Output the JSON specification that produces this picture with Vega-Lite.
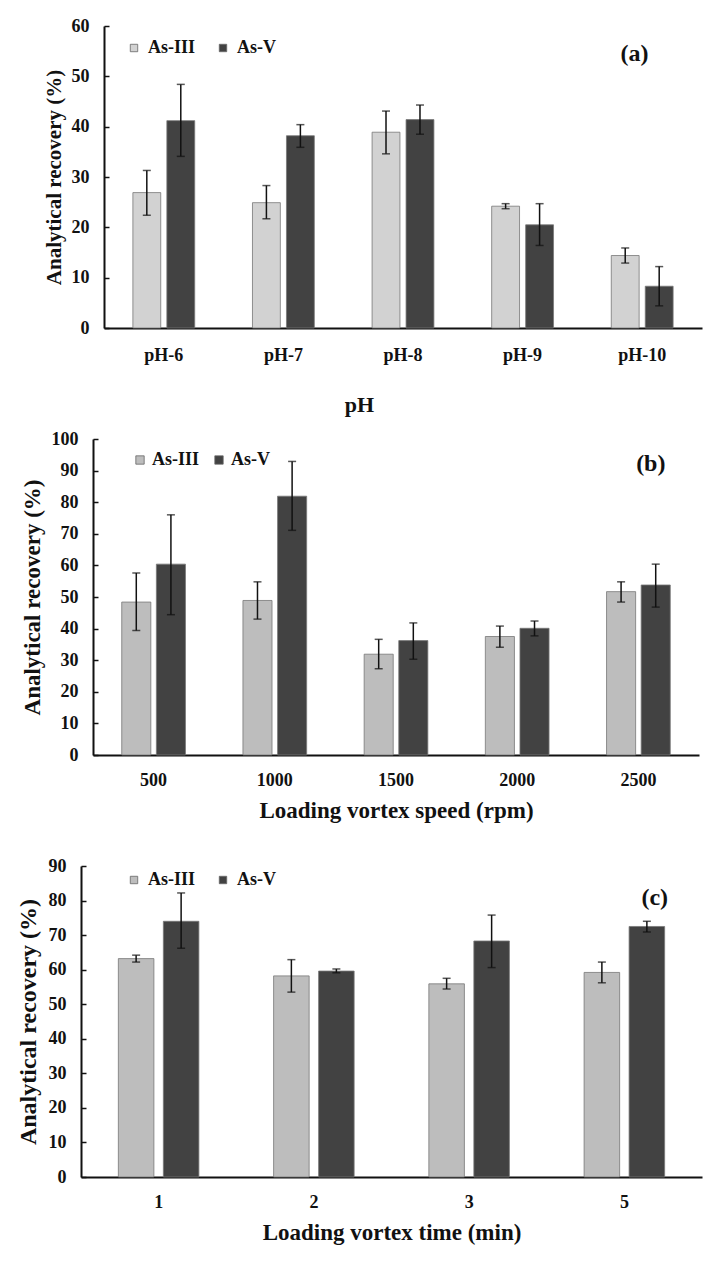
{
  "$schema": "https://vega.github.io/schema/vega-lite/v6.json",
  "background": "white",
  "padding": {"left": 16, "top": 17, "right": 5, "bottom": 5},
  "bounds": "flush",
  "spacing": 111,
  "config": {
    "font": "Liberation Serif",
    "view": {"stroke": null},
    "axis": {"labelFont": "Liberation Serif", "titleFont": "Liberation Serif", "labelFontWeight": "bold", "titleFontWeight": "bold", "labelColor": "#111", "titleColor": "#111", "domainColor": "#111", "domainWidth": 2, "tickColor": "#111", "tickWidth": 1.5, "grid": false, "labelFontSize": 18, "labelOverlap": false},
    "legend": {"labelFont": "Liberation Serif", "labelFontWeight": "bold", "labelFontSize": 18, "labelColor": "#111"}
  },
  "resolve": {"scale": {"x": "independent", "y": "independent", "color": "independent", "xOffset": "independent"}, "legend": {"color": "independent"}, "axis": {"x": "independent", "y": "independent"}},
  "datasets": {
    "a": [
      {"cat": "pH-6", "sp": "As-III", "v": 26.9, "lo": 22.4, "hi": 31.3},
      {"cat": "pH-6", "sp": "As-V", "v": 41.2, "lo": 34.1, "hi": 48.4},
      {"cat": "pH-7", "sp": "As-III", "v": 24.9, "lo": 21.7, "hi": 28.3},
      {"cat": "pH-7", "sp": "As-V", "v": 38.2, "lo": 35.9, "hi": 40.4},
      {"cat": "pH-8", "sp": "As-III", "v": 38.9, "lo": 34.6, "hi": 43.1},
      {"cat": "pH-8", "sp": "As-V", "v": 41.4, "lo": 38.5, "hi": 44.3},
      {"cat": "pH-9", "sp": "As-III", "v": 24.2, "lo": 23.7, "hi": 24.7},
      {"cat": "pH-9", "sp": "As-V", "v": 20.5, "lo": 16.4, "hi": 24.7},
      {"cat": "pH-10", "sp": "As-III", "v": 14.4, "lo": 12.9, "hi": 15.9},
      {"cat": "pH-10", "sp": "As-V", "v": 8.3, "lo": 4.4, "hi": 12.2}
    ],
    "b": [
      {"cat": "500", "sp": "As-III", "v": 48.4, "lo": 39.4, "hi": 57.6},
      {"cat": "500", "sp": "As-V", "v": 60.4, "lo": 44.4, "hi": 76.0},
      {"cat": "1000", "sp": "As-III", "v": 48.9, "lo": 43.0, "hi": 54.8},
      {"cat": "1000", "sp": "As-V", "v": 81.9, "lo": 71.1, "hi": 92.9},
      {"cat": "1500", "sp": "As-III", "v": 31.9, "lo": 27.3, "hi": 36.6},
      {"cat": "1500", "sp": "As-V", "v": 36.2, "lo": 30.3, "hi": 41.8},
      {"cat": "2000", "sp": "As-III", "v": 37.5, "lo": 34.1, "hi": 40.8},
      {"cat": "2000", "sp": "As-V", "v": 40.1, "lo": 37.7, "hi": 42.4},
      {"cat": "2500", "sp": "As-III", "v": 51.7, "lo": 48.4, "hi": 54.8},
      {"cat": "2500", "sp": "As-V", "v": 53.8, "lo": 46.8, "hi": 60.4}
    ],
    "c": [
      {"cat": "1", "sp": "As-III", "v": 63.2, "lo": 62.2, "hi": 64.2},
      {"cat": "1", "sp": "As-V", "v": 74.0, "lo": 66.2, "hi": 82.2},
      {"cat": "2", "sp": "As-III", "v": 58.2, "lo": 53.5, "hi": 62.9},
      {"cat": "2", "sp": "As-V", "v": 59.6, "lo": 59.1, "hi": 60.2},
      {"cat": "3", "sp": "As-III", "v": 55.9, "lo": 54.4, "hi": 57.5},
      {"cat": "3", "sp": "As-V", "v": 68.3, "lo": 60.6, "hi": 75.8},
      {"cat": "5", "sp": "As-III", "v": 59.2, "lo": 56.2, "hi": 62.2},
      {"cat": "5", "sp": "As-V", "v": 72.5, "lo": 70.9, "hi": 74.0}
    ]
  },
  "vconcat": [
    {
      "width": 621, "height": 302,
      "data": {"name": "a"},
      "encoding": {
        "x": {"field": "cat", "type": "nominal", "sort": null, "scale": {"range": [23, 621], "paddingInner": 0, "paddingOuter": 0},
          "axis": {"title": "pH", "titleFontSize": 22, "titleX": 278, "labelAngle": 0, "ticks": false, "labelPadding": 18, "titlePadding": 30}},
        "xOffset": {"field": "sp", "type": "nominal", "scale": {"paddingInner": 0.18, "paddingOuter": 0.85}}
      },
      "layer": [
        {"mark": {"type": "bar", "stroke": "#777", "strokeWidth": 0.8},
         "encoding": {
           "y": {"field": "v", "type": "quantitative", "scale": {"domain": [0, 60], "nice": false},
             "axis": {"title": "Analytical recovery (%)", "titleFontSize": 21, "values": [0, 10, 20, 30, 40, 50, 60], "offset": -23, "tickSize": -5, "labelPadding": 20, "titlePadding": 7, "labelOverlap": false}},
           "color": {"field": "sp", "type": "nominal", "scale": {"domain": ["As-III", "As-V"], "range": ["#d2d2d2", "#424242"]},
           "legend": {"orient": "none", "legendX": 44, "legendY": 13, "direction": "horizontal", "title": null, "symbolType": "square", "symbolSize": 55, "symbolStrokeColor": "#666", "symbolStrokeWidth": 0.8, "labelOffset": 5, "columnPadding": 18}}}},
        {"mark": {"type": "rule", "color": "#111", "strokeWidth": 1.5}, "encoding": {"y": {"field": "lo", "type": "quantitative",
           "axis": {"title": "Analytical recovery (%)", "titleFontSize": 21, "values": [0, 10, 20, 30, 40, 50, 60], "offset": -23, "tickSize": -5, "labelPadding": 20, "titlePadding": 7, "labelOverlap": false}}, "y2": {"field": "hi"}}},
        {"mark": {"type": "tick", "color": "#111", "thickness": 1.5, "size": 8}, "encoding": {"y": {"field": "lo", "type": "quantitative",
           "axis": {"title": "Analytical recovery (%)", "titleFontSize": 21, "values": [0, 10, 20, 30, 40, 50, 60], "offset": -23, "tickSize": -5, "labelPadding": 20, "titlePadding": 7, "labelOverlap": false}}}},
        {"mark": {"type": "tick", "color": "#111", "thickness": 1.5, "size": 8}, "encoding": {"y": {"field": "hi", "type": "quantitative",
           "axis": {"title": "Analytical recovery (%)", "titleFontSize": 21, "values": [0, 10, 20, 30, 40, 50, 60], "offset": -23, "tickSize": -5, "labelPadding": 20, "titlePadding": 7, "labelOverlap": false}}}},
        {"data": {"values": [{"lab": "(a)", "cat": "pH-10", "v": 54.4}]},
         "mark": {"type": "text", "font": "Liberation Serif", "fontWeight": "bold", "fontSize": 24, "color": "#111", "dx": 52},
         "encoding": {"y": {"field": "v", "type": "quantitative",
           "axis": {"title": "Analytical recovery (%)", "titleFontSize": 21, "values": [0, 10, 20, 30, 40, 50, 60], "offset": -23, "tickSize": -5, "labelPadding": 20, "titlePadding": 7, "labelOverlap": false}},
           "xOffset": {"value": 0}, "text": {"field": "lab"}}}
      ]
    },
    {
      "width": 621, "height": 316,
      "data": {"name": "b"},
      "encoding": {
        "x": {"field": "cat", "type": "nominal", "sort": null, "scale": {"range": [12, 618], "paddingInner": 0, "paddingOuter": 0},
          "axis": {"title": "Loading vortex speed (rpm)", "titleFontSize": 23, "labelAngle": 0, "ticks": false, "labelPadding": 16, "titlePadding": 10}},
        "xOffset": {"field": "sp", "type": "nominal", "scale": {"paddingInner": 0.16, "paddingOuter": 0.83}}
      },
      "layer": [
        {"mark": {"type": "bar", "stroke": "#777", "strokeWidth": 0.8},
         "encoding": {
           "y": {"field": "v", "type": "quantitative", "scale": {"domain": [0, 100], "nice": false},
             "axis": {"title": "Analytical recovery (%)", "titleFontSize": 23, "values": [0, 10, 20, 30, 40, 50, 60, 70, 80, 90, 100], "offset": -12, "tickSize": -5, "labelPadding": 20, "titlePadding": 7, "labelOverlap": false}},
           "color": {"field": "sp", "type": "nominal", "scale": {"domain": ["As-III", "As-V"], "range": ["#bdbdbd", "#424242"]},
           "legend": {"orient": "none", "legendX": 50, "legendY": 12, "direction": "horizontal", "title": null, "symbolType": "square", "symbolSize": 70, "symbolStrokeColor": "#666", "symbolStrokeWidth": 0.8, "labelOffset": 3, "columnPadding": 10}}}},
        {"mark": {"type": "rule", "color": "#111", "strokeWidth": 1.5}, "encoding": {"y": {"field": "lo", "type": "quantitative",
           "axis": {"title": "Analytical recovery (%)", "titleFontSize": 23, "values": [0, 10, 20, 30, 40, 50, 60, 70, 80, 90, 100], "offset": -12, "tickSize": -5, "labelPadding": 20, "titlePadding": 7, "labelOverlap": false}}, "y2": {"field": "hi"}}},
        {"mark": {"type": "tick", "color": "#111", "thickness": 1.5, "size": 8}, "encoding": {"y": {"field": "lo", "type": "quantitative",
           "axis": {"title": "Analytical recovery (%)", "titleFontSize": 23, "values": [0, 10, 20, 30, 40, 50, 60, 70, 80, 90, 100], "offset": -12, "tickSize": -5, "labelPadding": 20, "titlePadding": 7, "labelOverlap": false}}}},
        {"mark": {"type": "tick", "color": "#111", "thickness": 1.5, "size": 8}, "encoding": {"y": {"field": "hi", "type": "quantitative",
           "axis": {"title": "Analytical recovery (%)", "titleFontSize": 23, "values": [0, 10, 20, 30, 40, 50, 60, 70, 80, 90, 100], "offset": -12, "tickSize": -5, "labelPadding": 20, "titlePadding": 7, "labelOverlap": false}}}},
        {"data": {"values": [{"lab": "(b)", "cat": "2500", "v": 92}]},
         "mark": {"type": "text", "font": "Liberation Serif", "fontWeight": "bold", "fontSize": 24, "color": "#111", "dx": 73},
         "encoding": {"y": {"field": "v", "type": "quantitative",
           "axis": {"title": "Analytical recovery (%)", "titleFontSize": 23, "values": [0, 10, 20, 30, 40, 50, 60, 70, 80, 90, 100], "offset": -12, "tickSize": -5, "labelPadding": 20, "titlePadding": 7, "labelOverlap": false}},
           "xOffset": {"value": 0}, "text": {"field": "lab"}}}
      ]
    },
    {
      "width": 621, "height": 311,
      "data": {"name": "c"},
      "encoding": {
        "x": {"field": "cat", "type": "nominal", "sort": null, "scale": {"range": [0, 621], "paddingInner": 0, "paddingOuter": 0},
          "axis": {"title": "Loading vortex time (min)", "titleFontSize": 23, "labelAngle": 0, "ticks": false, "labelPadding": 16, "titlePadding": 10}},
        "xOffset": {"field": "sp", "type": "nominal", "scale": {"paddingInner": 0.21, "paddingOuter": 0.83}}
      },
      "layer": [
        {"mark": {"type": "bar", "stroke": "#777", "strokeWidth": 0.8},
         "encoding": {
           "y": {"field": "v", "type": "quantitative", "scale": {"domain": [0, 90], "nice": false},
             "axis": {"title": "Analytical recovery (%)", "titleFontSize": 24, "values": [0, 10, 20, 30, 40, 50, 60, 70, 80, 90], "tickSize": -5, "labelPadding": 20, "titlePadding": 8, "labelOverlap": false}},
           "color": {"field": "sp", "type": "nominal", "scale": {"domain": ["As-III", "As-V"], "range": ["#bdbdbd", "#424242"]},
           "legend": {"orient": "none", "legendX": 44, "legendY": 5, "direction": "horizontal", "title": null, "symbolType": "square", "symbolSize": 55, "symbolStrokeColor": "#666", "symbolStrokeWidth": 0.8, "labelOffset": 5, "columnPadding": 18}}}},
        {"mark": {"type": "rule", "color": "#111", "strokeWidth": 1.5}, "encoding": {"y": {"field": "lo", "type": "quantitative",
           "axis": {"title": "Analytical recovery (%)", "titleFontSize": 24, "values": [0, 10, 20, 30, 40, 50, 60, 70, 80, 90], "tickSize": -5, "labelPadding": 20, "titlePadding": 8, "labelOverlap": false}}, "y2": {"field": "hi"}}},
        {"mark": {"type": "tick", "color": "#111", "thickness": 1.5, "size": 8}, "encoding": {"y": {"field": "lo", "type": "quantitative",
           "axis": {"title": "Analytical recovery (%)", "titleFontSize": 24, "values": [0, 10, 20, 30, 40, 50, 60, 70, 80, 90], "tickSize": -5, "labelPadding": 20, "titlePadding": 8, "labelOverlap": false}}}},
        {"mark": {"type": "tick", "color": "#111", "thickness": 1.5, "size": 8}, "encoding": {"y": {"field": "hi", "type": "quantitative",
           "axis": {"title": "Analytical recovery (%)", "titleFontSize": 24, "values": [0, 10, 20, 30, 40, 50, 60, 70, 80, 90], "tickSize": -5, "labelPadding": 20, "titlePadding": 8, "labelOverlap": false}}}},
        {"data": {"values": [{"lab": "(c)", "cat": "5", "v": 80.7}]},
         "mark": {"type": "text", "font": "Liberation Serif", "fontWeight": "bold", "fontSize": 24, "color": "#111", "dx": 108},
         "encoding": {"y": {"field": "v", "type": "quantitative",
           "axis": {"title": "Analytical recovery (%)", "titleFontSize": 24, "values": [0, 10, 20, 30, 40, 50, 60, 70, 80, 90], "tickSize": -5, "labelPadding": 20, "titlePadding": 8, "labelOverlap": false}},
           "xOffset": {"value": 0}, "text": {"field": "lab"}}}
      ]
    }
  ]
}
